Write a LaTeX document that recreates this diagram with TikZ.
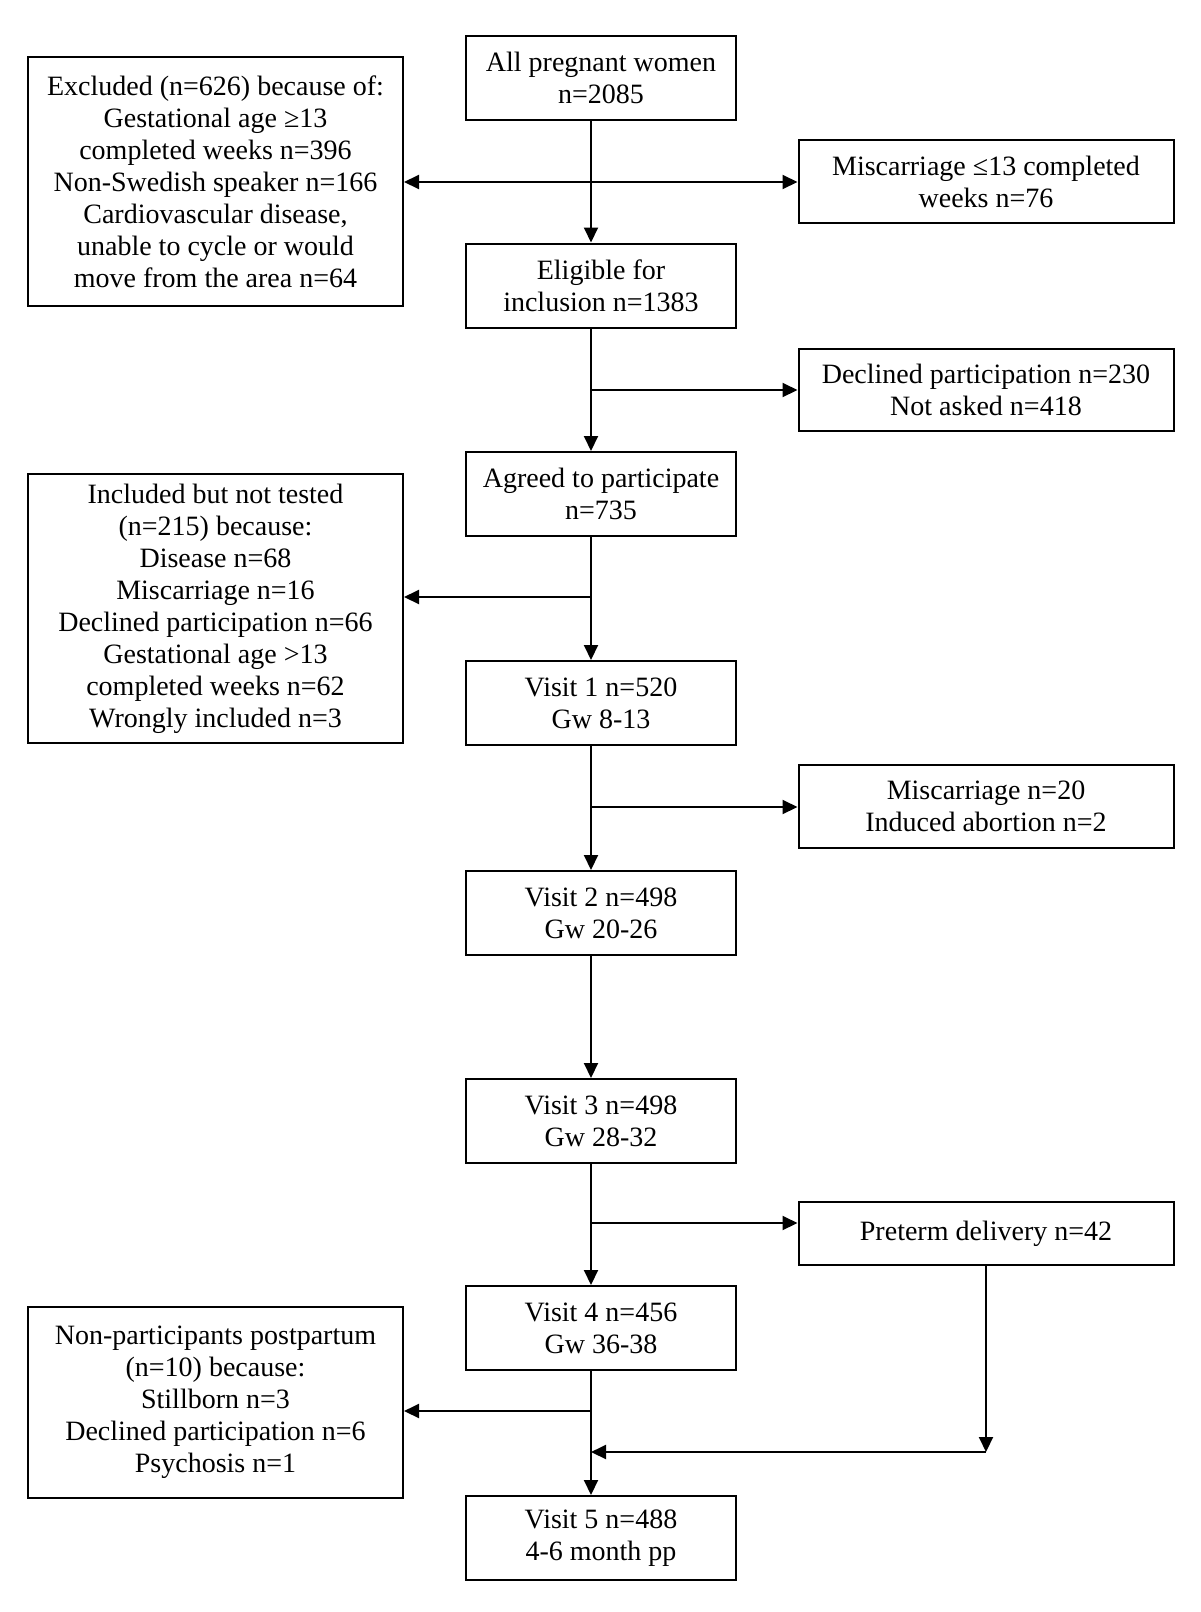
\documentclass[tikz,border=0pt]{standalone}
\usepackage{fontspec}
\setmainfont{Liberation Serif}
\usetikzlibrary{arrows.meta}
\begin{document}
\begin{tikzpicture}[x=0.5pt,y=-0.5pt,line join=miter,
	font=\fontsize{14}{16}\selectfont,
	mid/.style={draw,line width=1pt,align=center,inner sep=0pt,minimum width=135pt,minimum height=42pt},
	side/.style={draw,line width=1pt,align=center,inner sep=0pt,minimum width=187.5pt},
	arr/.style={-{Triangle[length=7.5pt,width=7pt]},line width=1pt}]
	\def\mx{591}
	\useasboundingbox (0,0) rectangle (1200,1612);
	\node[mid] (pw) at (601,78) {All pregnant women\\n=2085};
	\node[mid] (elig) at (601,285.5) {Eligible for\\inclusion n=1383};
	\node[mid] (agreed) at (601,494) {Agreed to participate\\n=735};
	\node[mid] (v1) at (601,703) {Visit 1 n=520\\Gw 8-13};
	\node[mid] (v2) at (601,913) {Visit 2 n=498\\Gw 20-26};
	\node[mid] (v3) at (601,1121) {Visit 3 n=498\\Gw 28-32};
	\node[mid] (v4) at (601,1328) {Visit 4 n=456\\Gw 36-38};
	\node[mid] (v5) at (601,1538) {Visit 5 n=488\\4-6 month pp};
	\node[side,minimum height=124.5pt] (excl) at (215.5,181.5) {Excluded (n=626) because of:\\Gestational age ≥13\\completed weeks n=396\\Non-Swedish speaker n=166\\Cardiovascular disease,\\unable to cycle or would\\move from the area n=64};
	\node[side,minimum height=134.5pt] (incl) at (215.5,608.5) {Included but not tested\\(n=215) because:\\Disease n=68\\Miscarriage n=16\\Declined participation n=66\\Gestational age >13\\completed weeks n=62\\Wrongly included n=3};
	\node[side,minimum height=95.5pt] (nonp) at (215.5,1402.5) {Non-participants postpartum\\(n=10) because:\\Stillborn n=3\\Declined participation n=6\\Psychosis n=1};
	\node[side,minimum height=41.5pt] (misc1) at (986,181.5) {Miscarriage ≤13 completed\\weeks n=76};
	\node[side,minimum height=41pt] (decl) at (986,390) {Declined participation n=230\\Not asked n=418};
	\node[side,minimum height=41.5pt] (misc2) at (986,806.5) {Miscarriage n=20\\Induced abortion n=2};
	\node[side,minimum height=31.5pt] (preterm) at (986,1233.5) {Preterm delivery n=42};
	\coordinate (b1) at (\mx,182);
	\coordinate (b2) at (\mx,390);
	\coordinate (b3) at (\mx,597);
	\coordinate (b4) at (\mx,807);
	\coordinate (b5) at (\mx,1223);
	\coordinate (b6) at (\mx,1411);
	\coordinate (b7) at (\mx,1452);
	\coordinate (j) at (986,1452);
	\foreach \a/\b in {pw/elig,elig/agreed,agreed/v1,v1/v2,v2/v3,v3/v4,v4/v5}
		\draw[arr] ([xshift=-5pt]\a.south) -- ([xshift=-5pt]\b.north);
	\draw[arr] (b1) -- (b1 -| excl.east);
	\draw[arr] (b1) -- (b1 -| misc1.west);
	\draw[arr] (b2) -- (b2 -| decl.west);
	\draw[arr] (b3) -- (b3 -| incl.east);
	\draw[arr] (b4) -- (b4 -| misc2.west);
	\draw[arr] (b5) -- (b5 -| preterm.west);
	\draw[arr] (b6) -- (b6 -| nonp.east);
	\draw[arr] (preterm.south) -- (j);
	\draw[arr] (j) -- (b7);
\end{tikzpicture}
\end{document}
